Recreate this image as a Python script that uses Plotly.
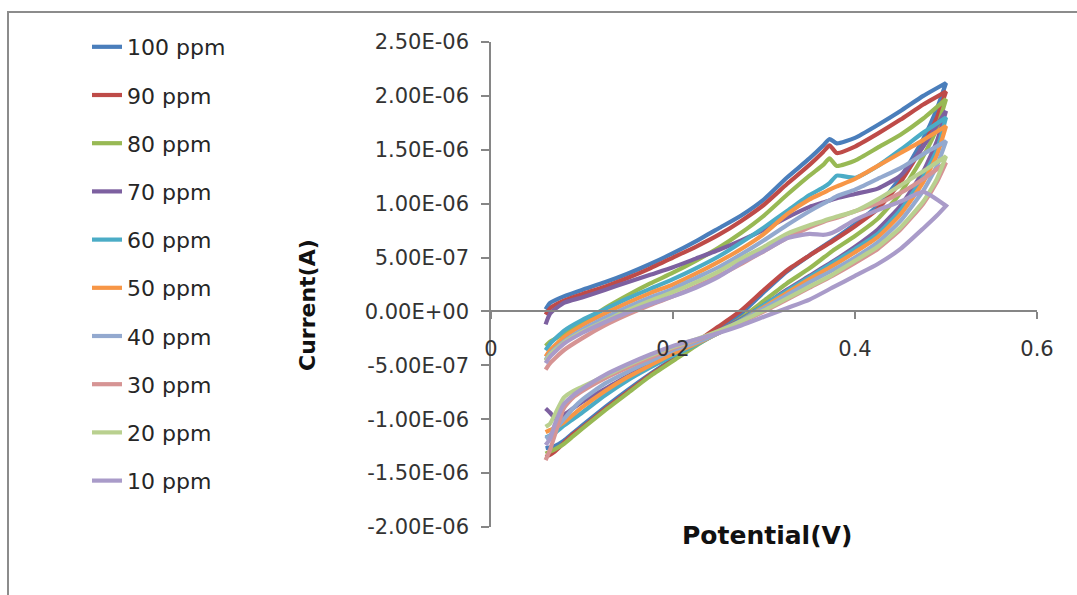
import plotly.graph_objects as go

# ---------------- data (currents in units of 1e-7 A) ----------------
SCALE = 1e-7

potential_fwd = [0.06, 0.065, 0.08, 0.10, 0.125, 0.15, 0.175, 0.20, 0.225, 0.25, 0.275,
                 0.30, 0.325, 0.35, 0.365, 0.372, 0.38, 0.40, 0.425, 0.45, 0.475, 0.50]
potential_rev = [0.50, 0.49, 0.475, 0.45, 0.425, 0.40, 0.375, 0.35, 0.325, 0.30, 0.275, 0.25,
                 0.225, 0.20, 0.175, 0.15, 0.125, 0.10, 0.09, 0.08, 0.07, 0.065, 0.06]

series_names = ["100 ppm", "90 ppm", "80 ppm", "70 ppm", "60 ppm",
                "50 ppm", "40 ppm", "30 ppm", "20 ppm", "10 ppm"]
series_colors = ["#4A7EBB", "#BE4B48", "#98B954", "#7D60A0", "#4BACC6",
                 "#F79646", "#93A9CF", "#D69494", "#B9D08F", "#A99BC9"]

fwd_100 = [0.2, 0.8, 1.4, 2.0, 2.7, 3.5, 4.4, 5.4, 6.5, 7.7, 8.9, 10.4, 12.4, 14.2, 15.4, 16.0, 15.6, 16.1, 17.3, 18.6, 20.0, 21.2]
rev_100 = [21.2, 18.8, 16.0, 12.4, 9.8, 8.1, 6.6, 5.2, 3.7, 1.8, -0.2, -1.6, -3.0, -4.4, -5.8, -7.3, -8.9, -10.6, -11.3, -12.0, -12.5, -12.6, -12.7]

fwd_90 = [-0.3, 0.3, 1.0, 1.6, 2.3, 3.1, 4.0, 5.0, 6.0, 7.1, 8.4, 9.9, 11.8, 13.6, 14.8, 15.4, 14.7, 15.3, 16.5, 17.8, 19.2, 20.4]
rev_90 = [20.4, 18.0, 15.4, 12.0, 9.5, 7.9, 6.5, 5.2, 3.8, 2.0, 0.1, -1.4, -2.9, -4.5, -5.9, -7.5, -9.1, -10.8, -11.4, -12.2, -13.0, -13.3, -13.5]

fwd_80 = [-3.2, -2.8, -2.1, -1.1, 0.3, 1.5, 2.6, 3.6, 4.7, 5.9, 7.3, 8.9, 10.8, 12.6, 13.6, 14.2, 13.5, 14.0, 15.2, 16.4, 17.9, 19.7]
rev_80 = [19.7, 17.0, 14.4, 11.0, 8.6, 7.0, 5.6, 4.0, 2.6, 1.0, -0.6, -1.9, -3.2, -4.6, -6.0, -7.6, -9.2, -10.9, -11.6, -12.3, -12.8, -13.0, -13.2]

fwd_70 = [-1.2, -0.2, 0.8, 1.3, 2.0, 2.7, 3.4, 4.1, 4.9, 5.7, 6.6, 7.6, 8.7, 9.7, 10.1, 10.3, 10.5, 10.9, 11.4, 12.6, 15.3, 18.6]
rev_70 = [18.6, 15.8, 13.0, 9.8, 7.6, 6.0, 4.6, 3.3, 2.0, 0.6, -0.7, -1.8, -2.8, -3.8, -4.9, -6.0, -7.2, -8.4, -9.0, -9.6, -9.9, -9.4, -9.0]

fwd_60 = [-3.6, -3.0, -1.8, -0.8, 0.2, 1.2, 2.1, 3.0, 4.0, 5.1, 6.4, 7.8, 9.3, 10.8, 11.5, 11.9, 12.6, 12.4, 13.5, 15.0, 16.6, 18.0]
rev_60 = [18.0, 15.0, 12.5, 9.4, 7.2, 5.8, 4.5, 3.2, 1.9, 0.6, -0.8, -2.0, -3.1, -4.1, -5.2, -6.4, -7.8, -9.4, -10.0, -10.6, -11.3, -11.5, -11.7]

fwd_50 = [-4.2, -3.6, -2.4, -1.3, -0.2, 0.8, 1.7, 2.5, 3.5, 4.6, 5.8, 7.2, 9.0, 10.4, 11.0, 11.3, 11.6, 12.3, 13.5, 14.7, 15.9, 17.2]
rev_50 = [17.2, 14.5, 12.0, 9.0, 6.9, 5.5, 4.2, 3.0, 1.7, 0.4, -0.9, -2.0, -3.0, -3.9, -5.0, -6.1, -7.4, -8.9, -9.6, -10.3, -10.8, -11.0, -11.2]

fwd_40 = [-4.5, -3.9, -2.8, -1.7, -0.6, 0.4, 1.3, 2.1, 3.1, 4.1, 5.3, 6.6, 8.0, 9.3, 10.0, 10.3, 10.7, 11.3, 12.3, 13.3, 14.6, 15.8]
rev_40 = [15.8, 13.5, 11.2, 8.4, 6.4, 5.0, 3.8, 2.7, 1.5, 0.3, -0.9, -2.0, -2.9, -3.6, -4.6, -5.6, -6.7, -8.2, -9.0, -10.0, -11.0, -11.5, -11.8]

fwd_30 = [-5.4, -4.8, -3.6, -2.5, -1.3, -0.3, 0.6, 1.4, 2.3, 3.3, 4.4, 5.6, 6.8, 7.8, 8.3, 8.5, 8.7, 9.3, 10.0, 11.0, 12.3, 13.8]
rev_30 = [13.8, 12.0, 10.0, 7.6, 5.8, 4.5, 3.3, 2.2, 1.1, 0.0, -1.0, -1.9, -2.7, -3.4, -4.3, -5.2, -6.2, -7.4, -8.0, -9.0, -11.5, -12.8, -13.8]

fwd_20 = [-4.6, -4.0, -2.9, -1.9, -0.9, 0.1, 1.0, 1.8, 2.7, 3.7, 4.9, 6.0, 7.2, 8.0, 8.4, 8.6, 8.8, 9.3, 10.4, 11.7, 13.0, 14.4]
rev_20 = [14.4, 12.3, 10.2, 7.8, 6.0, 4.7, 3.4, 2.3, 1.2, 0.1, -0.9, -1.8, -2.6, -3.3, -4.1, -5.0, -6.0, -7.0, -7.4, -8.0, -9.6, -10.4, -10.7]

fwd_10 = [-4.8, -4.2, -3.0, -2.0, -1.0, -0.1, 0.7, 1.4, 2.2, 3.2, 4.5, 5.6, 6.8, 7.2, 7.1, 7.2, 7.5, 8.5, 9.4, 10.2, 11.1, 9.8]
rev_10 = [9.8, 8.9, 7.7, 5.8, 4.4, 3.3, 2.2, 1.1, 0.3, -0.5, -1.3, -2.0, -2.6, -3.2, -4.0, -4.9, -5.9, -7.2, -7.8, -8.6, -10.5, -11.8, -12.4]

fwd_all = [fwd_100, fwd_90, fwd_80, fwd_70, fwd_60, fwd_50, fwd_40, fwd_30, fwd_20, fwd_10]
rev_all = [rev_100, rev_90, rev_80, rev_70, rev_60, rev_50, rev_40, rev_30, rev_20, rev_10]

y_tickvals = [2.5e-6, 2.0e-6, 1.5e-6, 1.0e-6, 5.0e-7, 0.0, -5.0e-7, -1.0e-6, -1.5e-6, -2.0e-6]
y_ticktext = ["2.50E-06", "2.00E-06", "1.50E-06", "1.00E-06", "5.00E-07", "0.00E+00",
              "-5.00E-07", "-1.00E-06", "-1.50E-06", "-2.00E-06"]
x_tickvals = [0, 0.2, 0.4, 0.6]
x_ticktext = ["0", "0.2", "0.4", "0.6"]

# ---------------- figure ----------------
W, H = 1077, 595
ML, MR, MT, MB = 491, 40, 42, 68
FONT = "DejaVu Sans"

fig = go.Figure()
for name, color, f, r in zip(series_names, series_colors, fwd_all, rev_all):
    fig.add_trace(go.Scatter(
        x=potential_fwd + potential_rev,
        y=[v * SCALE for v in f + r],
        mode="lines",
        name=name,
        legendgroup=name,
        line=dict(color=color, width=4.2, shape="spline", smoothing=0.5),
    ))

pw = W - ML - MR
ph = H - MT - MB


def px_x(p):
    return (p - ML) / pw


def px_y(p):
    return (H - MB - p) / ph


axis_col = "#868686"
tick_col = "#333333"
fig.update_layout(
    width=W, height=H,
    margin=dict(l=ML, r=MR, t=MT, b=MB),
    paper_bgcolor="white", plot_bgcolor="white",
    font=dict(family=FONT, color=tick_col),
    showlegend=True,
    legend=dict(
        xref="container", yref="container",
        x=87 / W, y=1 - 26 / H, xanchor="left", yanchor="top",
        font=dict(family=FONT, size=22, color="#262626"),
        tracegroupgap=16.6,
        maxheight=1.0,
        bgcolor="rgba(0,0,0,0)",
    ),
    xaxis=dict(
        range=[0, 0.6], anchor="free", position=4 / 9,
        showline=True, linecolor=axis_col, linewidth=1.5,
        ticks="outside", ticklen=7, tickcolor=axis_col, tickwidth=1.5,
        tickvals=x_tickvals, ticktext=x_ticktext,
        tickfont=dict(family=FONT, size=21, color=tick_col),
        ticklabelstandoff=12,
        showgrid=False, zeroline=False,
    ),
    yaxis=dict(
        range=[-2.0e-6, 2.5e-6],
        showline=True, linecolor=axis_col, linewidth=1.5,
        ticks="outside", ticklen=8, tickcolor=axis_col, tickwidth=1.5,
        tickvals=y_tickvals, ticktext=y_ticktext,
        tickfont=dict(family=FONT, size=21, color=tick_col),
        ticklabelstandoff=8,
        showgrid=False, zeroline=False,
    ),
    shapes=[dict(
        type="rect", xref="paper", yref="paper",
        x0=px_x(8), x1=px_x(1100), y0=px_y(620), y1=px_y(12),
        line=dict(color="#8C8C8C", width=2), fillcolor="rgba(0,0,0,0)",
        layer="below",
    )],
    annotations=[
        dict(text="<b>Potential(V)</b>", xref="paper", yref="paper",
             x=px_x(767), y=px_y(535), xanchor="center", yanchor="middle",
             showarrow=False, font=dict(family=FONT, size=25, color="#111111")),
        dict(text="<b>Current(A)</b>", xref="paper", yref="paper",
             x=px_x(307), y=px_y(305), xanchor="center", yanchor="middle",
             textangle=-90, showarrow=False,
             font=dict(family=FONT, size=22, color="#111111")),
    ],
)

fig.write_html("out.html")
